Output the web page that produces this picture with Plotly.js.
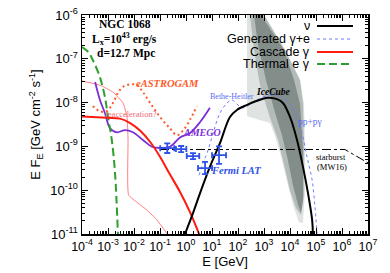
<!DOCTYPE html>
<html><head><meta charset="utf-8">
<script src="https://cdn.plot.ly/plotly-3.0.1.min.js"></script>
<style>html,body{margin:0;padding:0;background:#fff}#c{width:390px;height:273px}</style>
</head><body><div id="c"></div>
<script>
// ---- data (E in GeV, E F_E in GeV cm^-2 s^-1) ----
const thermalE = [1e-4, 1.7e-4, 2.6e-4, 4.9e-4, 7.6e-4, 1e-3, 1.4e-3, 1.86e-3, 2.4e-3];
const thermalF = [1.86e-7, 1.45e-7, 9.4e-8, 3.8e-8, 1.35e-8, 4.7e-9, 1.4e-9, 2.5e-10, 1e-11];

const cascadeE = [1e-4, 9.1e-4, 2.9e-3, 7.1e-3, 1.7e-2, 4.2e-2, 0.1, 0.24, 0.59, 1.41, 3.2];
const cascadeF = [4.8e-9, 4.5e-9, 4.3e-9, 3.4e-9, 2.3e-9, 1.26e-9, 5.8e-10, 2.3e-10, 9.1e-11, 3.2e-11, 1e-11];

const reaccE = [1e-4, 4.9e-4, 1.55e-3, 3.8e-3, 5.4e-3, 5.9e-3, 6.2e-3, 1.4e-2, 3.2e-2, 7.6e-2, 0.19];
const reaccF = [3.1e-8, 2.5e-8, 1.74e-8, 9.8e-9, 4.7e-9, 1.4e-9, 7.8e-11, 5.1e-11, 3.5e-11, 2.1e-11, 1e-11];

const amegoE = [3.2e-4, 4.9e-4, 7.6e-4, 1.2e-3, 2.2e-3, 4.5e-3, 9.1e-3, 2.2e-2, 4.9e-2, 0.1, 0.24, 0.59, 1.4, 3.5, 8.3];
const amegoF = [2.95e-8, 1.15e-8, 5.8e-9, 2.6e-9, 2.1e-9, 2.35e-9, 2.1e-9, 1.4e-9, 9.8e-10, 9.2e-10, 9.8e-10, 1.6e-9, 2.0e-9, 3.6e-9, 7.6e-9];

const eastroE = [2.6e-4, 4.5e-4, 8.3e-4, 1.55e-3, 2.4e-3, 3.8e-3, 7.1e-3, 1.3e-2, 2.2e-2, 4.2e-2, 0.1, 0.24, 0.45, 0.76, 1.41, 2.6];
const eastroF = [8.3e-9, 6.5e-9, 6.2e-9, 9.8e-9, 1.66e-8, 2.3e-8, 2.6e-8, 2.5e-8, 1.74e-8, 9.8e-9, 4.7e-9, 2.6e-9, 1.8e-9, 2.3e-9, 4.0e-9, 8.3e-9];

const nuE = [0.91, 1.86, 3.5, 8.3, 20.4, 49, 91, 224, 537, 1320, 3160, 5370, 1e4, 1.86e4, 3.16e4, 4.9e4, 7.1e4, 7.6e4];
const nuF = [1e-11, 3.0e-11, 8.7e-11, 3.4e-10, 1.2e-9, 4.7e-9, 6.8e-9, 8.9e-9, 1.1e-8, 1.29e-8, 1.2e-8, 9.8e-9, 4.7e-9, 1.4e-9, 3.4e-10, 8.7e-11, 2.1e-11, 1e-11];

const genE = [3.2, 4.5, 6.5, 11, 20.4, 38, 59, 91, 141, 224, 537, 1700, 4200, 1e4, 1.86e4, 2.9e4, 4.5e4, 7.1e4, 9.1e4, 1.1e5];
const genF = [2.2e-10, 4.2e-10, 7.1e-10, 2.0e-9, 5.8e-9, 9.8e-9, 1.15e-8, 9.3e-9, 7.6e-9, 8.3e-9, 1.15e-8, 1.48e-8, 1.41e-8, 9.3e-9, 4.7e-9, 2.0e-9, 5.8e-10, 1.7e-10, 4.2e-11, 1e-11];

const starE = [0.1, 1.3e6, 1e7];
const starF = [8.5e-10, 8.5e-10, 4.2e-10];

const fermiE = [0.19, 0.65, 1.86, 5.4, 18.6];
const fermiF = [9.1e-10, 8.7e-10, 6.0e-10, 3.2e-10, 6.3e-10];
const fermiDexE = [0.27, 0.2, 0.24, 0.27, 0.27];
const fermiDexF = [0.11, 0.07, 0.07, 0.14, 0.2];

// IceCube contour bands (outer, middle, inner)
const bandOutE = [222, 1000, 6460, 2.43e4, 3.47e4, 3.78e4, 3.78e4, 3.16e4, 2.22e4, 1.3e4, 8.3e3, 4.9e3, 2.6e3, 1.7e3, 222];
const bandOutF = [1e-6, 1e-6, 1.58e-7, 3.3e-8, 9.3e-9, 8.3e-10, 1e-10, 1.78e-11, 1.86e-11, 4.6e-11, 1.3e-10, 4.9e-10, 1.8e-9, 3.4e-9, 4.9e-9];
const bandMidE = [288, 1000, 6460, 2.43e4, 3.16e4, 3.47e4, 3.47e4, 2.65e4, 1.7e4, 1e4, 5.9e3, 3.5e3, 1.7e3, 700, 413];
const bandMidF = [1e-6, 1e-6, 1.58e-7, 3.3e-8, 9.3e-9, 8.3e-10, 7.7e-11, 2.7e-11, 3.9e-11, 1e-10, 3.8e-10, 1.4e-9, 4.5e-9, 2.5e-8, 1.58e-7];
const bandInE = [413, 767, 5.9e3, 1.43e4, 2.43e4, 3.16e4, 3.16e4, 2.65e4, 2.04e4, 1.3e4, 8.3e3, 4.9e3, 2.6e3, 1.19e3, 589];
const bandInF = [1e-6, 1e-6, 1.58e-7, 3.3e-8, 9.3e-9, 8.3e-10, 6.0e-11, 3.0e-11, 4.6e-11, 1.3e-10, 4.9e-10, 1.8e-9, 6.2e-9, 3.3e-8, 2.1e-7];

// tick labels
const xTickVals = [1e-4, 1e-3, 1e-2, 1e-1, 1, 10, 100, 1e3, 1e4, 1e5, 1e6, 1e7];
const xTickText = ['10<sup>-4</sup>', '10<sup>-3</sup>', '10<sup>-2</sup>', '10<sup>-1</sup>', '10<sup>0</sup>', '10<sup>1</sup>', '10<sup>2</sup>', '10<sup>3</sup>', '10<sup>4</sup>', '10<sup>5</sup>', '10<sup>6</sup>', '10<sup>7</sup>'];
const yTickVals = [1e-11, 1e-10, 1e-9, 1e-8, 1e-7, 1e-6];
const yTickText = ['10<sup>-11</sup>', '10<sup>-10</sup>', '10<sup>-9</sup>', '10<sup>-8</sup>', '10<sup>-7</sup>', '10<sup>-6</sup>'];

// ---- traces ----
const errPlus = (v, d) => v.map((x, i) => x * (Math.pow(10, d[i]) - 1));
const errMinus = (v, d) => v.map((x, i) => x * (1 - Math.pow(10, -d[i])));
const greenDash = '8px,4px';

const traces = [
  {x: bandOutE, y: bandOutF, mode: 'lines', fill: 'toself', fillcolor: '#dfe3e1', line: {width: 0}, hoverinfo: 'skip'},
  {x: bandMidE, y: bandMidF, mode: 'lines', fill: 'toself', fillcolor: '#b4bcb9', line: {width: 0}, hoverinfo: 'skip'},
  {x: bandInE, y: bandInF, mode: 'lines', fill: 'toself', fillcolor: '#838d8a', line: {width: 0}, hoverinfo: 'skip'},
  {x: starE, y: starF, mode: 'lines', line: {color: '#000', width: 1, dash: 'dashdot'}},
  {x: reaccE, y: reaccF, mode: 'lines', line: {color: '#ff7f7f', width: 1, shape: 'spline', smoothing: 0.4}},
  {x: eastroE, y: eastroF, mode: 'lines', line: {color: '#ff5a2a', width: 2, dash: '2px,3px', shape: 'spline'}},
  {x: amegoE, y: amegoF, mode: 'lines', line: {color: '#7b2fd6', width: 1.8, shape: 'spline'}},
  {x: thermalE, y: thermalF, mode: 'lines', line: {color: '#2ca02c', width: 2, dash: greenDash, shape: 'spline'}},
  {x: cascadeE, y: cascadeF, mode: 'lines', line: {color: '#ff1a10', width: 2, shape: 'spline'}},
  {x: genE, y: genF, mode: 'lines', line: {color: '#6f7cff', width: 1, dash: 'dot', shape: 'spline'}},
  {x: nuE, y: nuF, mode: 'lines', line: {color: '#000', width: 2, shape: 'spline'}},
  {x: fermiE, y: fermiF, mode: 'markers', marker: {size: 1, color: '#2f52e8'},
   error_x: {type: 'data', symmetric: false, array: errPlus(fermiE, fermiDexE), arrayminus: errMinus(fermiE, fermiDexE), color: '#2f52e8', thickness: 1.8, width: 3},
   error_y: {type: 'data', symmetric: false, array: errPlus(fermiF, fermiDexF), arrayminus: errMinus(fermiF, fermiDexF), color: '#2f52e8', thickness: 1.8, width: 3}},
  // carrier for the minor-tick axes
  {x: [], y: [], xaxis: 'x2', yaxis: 'y2', mode: 'lines', hoverinfo: 'skip'}
];

// ---- annotations ----
const px = v => (v - 82) / 286, py = v => (234 - v) / 219;
const serifB = {family: 'Liberation Serif', size: 11.5, color: '#000'};
const ann = (t, x, y, font, xa) => ({text: t, x: px(x), y: py(y), xref: 'paper', yref: 'paper', showarrow: false, xanchor: xa || 'center', yanchor: 'middle', font: font});
const annotations = [
  ann('<b>NGC 1068</b>', 125, 24, serifB),
  ann('<b>L<sub>x</sub>=10<sup>43</sup> erg/s</b>', 124, 39, serifB),
  ann('<b>d=12.7 Mpc</b>', 126, 53, serifB),
  ann('<b><i>eASTROGAM</i></b>', 167, 83, {family: 'Liberation Serif', size: 10.5, color: '#ff5a2a'}),
  ann('reacceleration?', 131, 114, {family: 'Liberation Serif', size: 8.5, color: '#ef6a78'}),
  ann('<b><i>AMEGO</i></b>', 202, 132, {family: 'Liberation Serif', size: 10, color: '#7b2fd6'}),
  ann('<b><i>Fermi LAT</i></b>', 236, 170, {family: 'Liberation Serif', size: 10.5, color: '#2f52e8'}),
  ann('<b><i>IceCube</i></b>', 273, 92, {family: 'Liberation Serif', size: 9.5, color: '#000'}),
  ann('Bethe-Heitler', 232, 96, {family: 'Liberation Serif', size: 8, color: '#5a6cf0'}),
  ann('pp+pγ', 310, 122, {family: 'Liberation Serif', size: 9.5, color: '#5a6cf0'}),
  ann('starburst', 331, 157, {family: 'Liberation Serif', size: 8.5, color: '#000'}),
  ann('(MW16)', 332, 167, {family: 'Liberation Serif', size: 8.5, color: '#000'}),
];
const legTxt = ['ν', 'Generated γ+e', 'Cascade γ', 'Thermal e γ'];
const legY = [26, 39, 52, 64];
const legStyle = [{color: '#000', width: 2, dash: 'solid'}, {color: '#6f7cff', width: 1, dash: 'dot'}, {color: '#ff1a10', width: 2, dash: 'solid'}, {color: '#2ca02c', width: 2, dash: greenDash}];
const shapes = [];
legTxt.forEach((t, i) => {
  annotations.push(ann(t, 312, legY[i], {family: 'Liberation Sans', size: 12.5, color: '#000'}, 'right'));
  shapes.push({type: 'line', xref: 'paper', yref: 'paper', x0: px(317), x1: px(353), y0: py(legY[i]), y1: py(legY[i]), line: legStyle[i]});
});

const axisCommon = {type: 'log', ticks: 'inside', ticklen: 6, tickwidth: 1, tickcolor: '#000', showline: true, linecolor: '#000', linewidth: 1.5, mirror: 'allticks', showgrid: false, zeroline: false, tickmode: 'array', tickangle: 0};
const minorAxis = {type: 'log', ticks: 'inside', ticklen: 3, tickwidth: 1, tickcolor: '#000', showline: false, mirror: 'ticks', showgrid: false, zeroline: false, showticklabels: false, dtick: 'D1'};

const layout = {
  width: 390, height: 273, margin: {l: 82, r: 22, t: 15, b: 39}, showlegend: false,
  paper_bgcolor: '#fff', plot_bgcolor: '#fff',
  xaxis: Object.assign({}, axisCommon, {range: [-4, 7], tickvals: xTickVals, ticktext: xTickText, tickfont: {family: 'Liberation Sans', size: 12.5, color: '#000'},
    title: {text: 'E [GeV]', font: {family: 'Liberation Sans', size: 13, color: '#000'}, standoff: 4}}),
  yaxis: Object.assign({}, axisCommon, {range: [-11, -6], tickvals: yTickVals, ticktext: yTickText, tickfont: {family: 'Liberation Sans', size: 13, color: '#000'},
    title: {text: 'E F<sub>E</sub> [GeV cm<sup>-2</sup> s<sup>-1</sup>]', font: {family: 'Liberation Sans', size: 13, color: '#000'}, standoff: 6}}),
  xaxis2: Object.assign({}, minorAxis, {range: [-4, 7], overlaying: 'x', anchor: 'y2', side: 'bottom'}),
  yaxis2: Object.assign({}, minorAxis, {range: [-11, -6], overlaying: 'y', anchor: 'x2', side: 'left'}),
  annotations: annotations, shapes: shapes
};
Plotly.newPlot('c', traces, layout, {displayModeBar: false, staticPlot: true});
</script></body></html>
